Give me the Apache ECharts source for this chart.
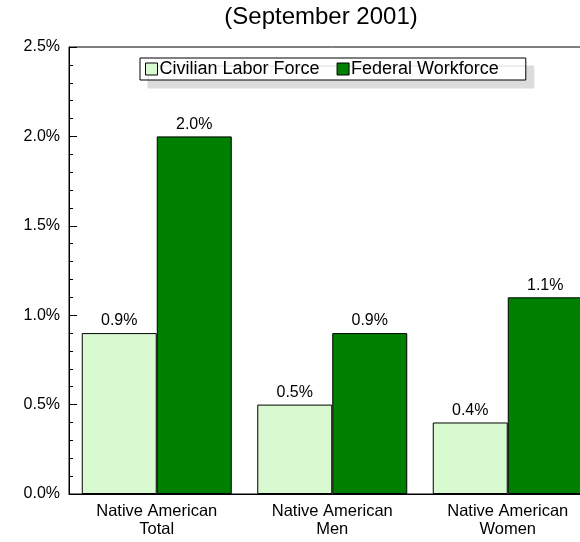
<!DOCTYPE html>
<html>
<head>
<meta charset="utf-8">
<script src="https://cdn.jsdelivr.net/npm/echarts@6/dist/echarts.min.js"></script>
<style>html,body{margin:0;padding:0;background:#fff;overflow:hidden;width:580px;height:542px}#c{width:600px;height:542px}</style>
</head>
<body>
<div id="c"></div>
<script>
const categories = ['Native American\nTotal', 'Native American\nMen', 'Native American\nWomen'];
const civilian = [0.9, 0.5, 0.4];
const federal = [2.0, 0.9, 1.1];
const seriesNames = ['Civilian Labor Force', 'Federal Workforce'];
const titleText = '(September 2001)';
const FONT = '"Liberation Sans", Arial, sans-serif';

const chart = echarts.init(document.getElementById('c'), null, {renderer: 'canvas'});
const labelOpt = {
  show: true, position: 'top', distance: 4, color: '#000',
  fontFamily: FONT, fontSize: 16,
  formatter: p => p.value.toFixed(1) + '%'
};
chart.setOption({
  animation: false,
  backgroundColor: '#fff',
  title: {
    text: titleText, left: 316, top: 0, textAlign: 'center',
    textStyle: {fontFamily: FONT, fontSize: 24, fontWeight: 'normal', color: '#000'}
  },
  legend: {
    left: 140, top: 58,
    data: seriesNames,
    icon: 'rect', itemWidth: 12, itemHeight: 12, itemGap: 17,
    padding: [2, 27, 2, 5],
    backgroundColor: '#fff', borderColor: '#000', borderWidth: 1,
    shadowColor: '#dcdcdc', shadowBlur: 0, shadowOffsetX: 8, shadowOffsetY: 8,
    textStyle: {fontFamily: FONT, fontSize: 18, color: '#000', padding: [0, 0, 0, -3]},
    itemStyle: {borderColor: '#000', borderWidth: 1}
  },
  grid: {left: 69, top: 47, bottom: 48, width: 526.5, show: true, borderColor: '#000', borderWidth: 1, backgroundColor: 'transparent'},
  xAxis: {
    type: 'category', data: categories,
    axisLine: {show: true, lineStyle: {color: '#000'}},
    axisTick: {show: false},
    axisLabel: {color: '#000', fontFamily: FONT, fontSize: 16.5, lineHeight: 18, margin: 8}
  },
  yAxis: {
    type: 'value', min: 0, max: 2.5, interval: 0.5,
    axisLine: {show: true, lineStyle: {color: '#000'}},
    axisTick: {show: true, inside: true, length: 8, lineStyle: {color: '#000'}},
    minorTick: {show: true, splitNumber: 5, length: 4, lineStyle: {color: '#000'}},
    splitLine: {show: false},
    axisLabel: {color: '#000', fontFamily: FONT, fontSize: 16, margin: 9, formatter: v => v.toFixed(1) + '%'}
  },
  series: [
    {name: seriesNames[0], type: 'bar', data: civilian, barWidth: 75, barGap: '0%',
     itemStyle: {color: '#d9f9d1', borderColor: '#000', borderWidth: 1}, label: labelOpt},
    {name: seriesNames[1], type: 'bar', data: federal, barWidth: 75, barGap: '0%',
     itemStyle: {color: '#008000', borderColor: '#000', borderWidth: 1}, label: labelOpt}
  ]
});
</script>
</body>
</html>
